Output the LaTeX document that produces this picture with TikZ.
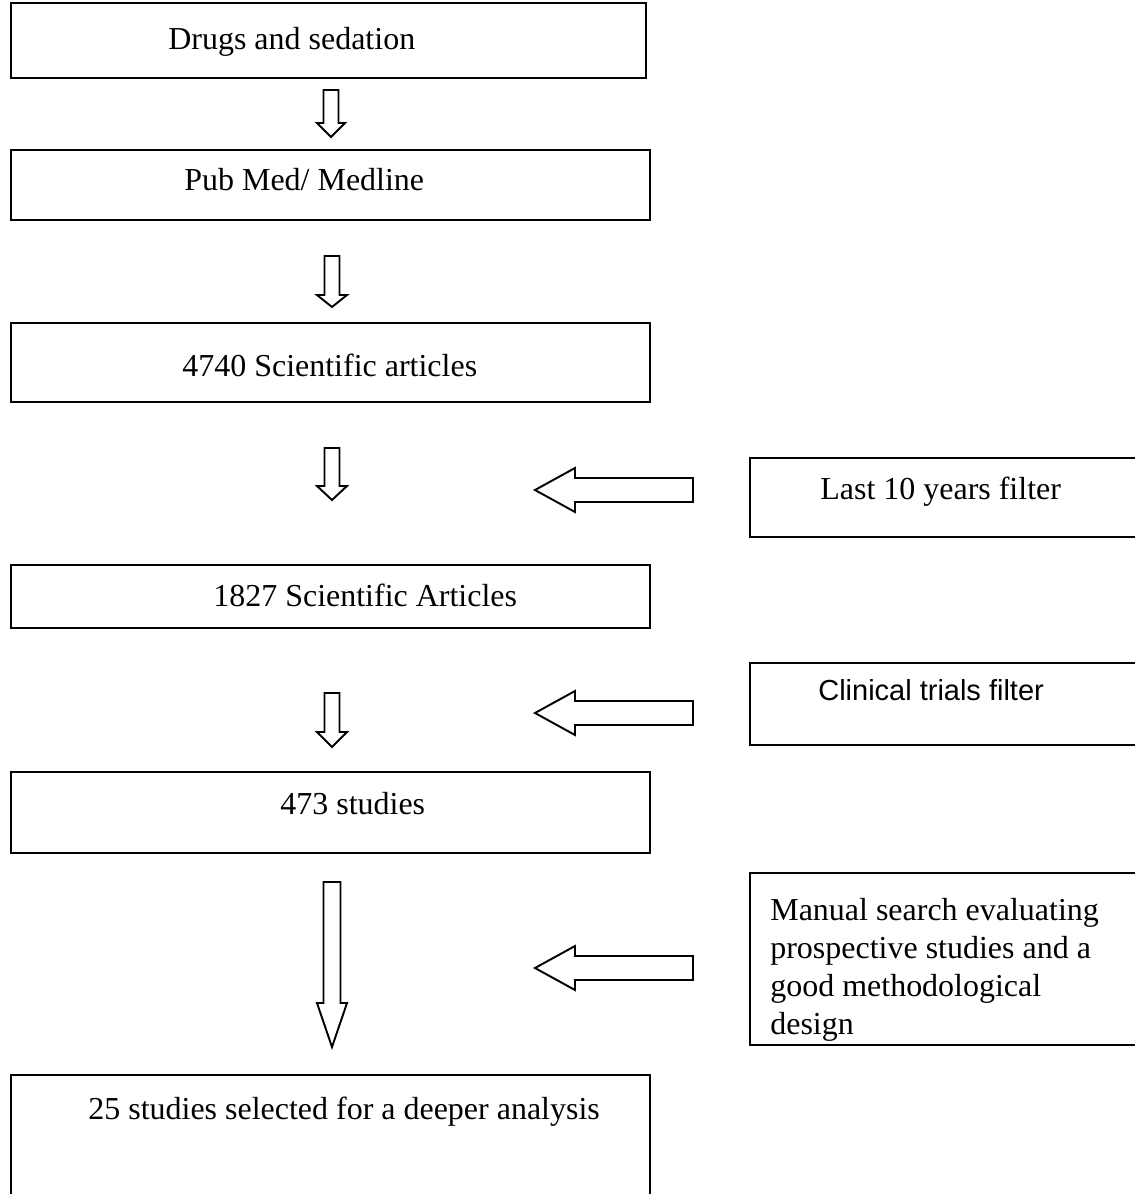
\documentclass[tikz,border=0pt]{standalone}
\usepackage{fontspec}
\setmainfont{Liberation Serif}
\newfontfamily\arialfont{Liberation Sans}
\usetikzlibrary{fit}
\newcommand\mydarr[6]{% cx, top, head start, tip, shaft half, head half
  \draw[blk] ({#1-#5},#2) -- ({#1+#5},#2) -- ({#1+#5},#3) -- ({#1+#6},#3) -- (#1,#4) -- ({#1-#6},#3) -- ({#1-#5},#3) -- cycle;}
\newcommand\mylarr[2]{% y centre, name
  \draw[blk] (535,#1) -- (575,{#1-22}) -- (575,{#1-12}) -- (693,{#1-12}) -- (693,{#1+12}) -- (575,{#1+12}) -- (575,{#1+22}) -- cycle;
  \coordinate (#2) at (535,#1);}
\begin{document}
\begin{tikzpicture}[x=0.02cm,y=-0.02cm,
 boxst/.style={draw, line width=1.5pt, inner sep=0pt},
 lbl/.style={anchor=base west, inner sep=0pt, font=\fontsize{18.2}{22}\selectfont},
 sanslbl/.style={anchor=base west, inner sep=0pt, font=\arialfont\fontsize{16.5}{20}\selectfont},
 blk/.style={draw, line width=1.1pt, fill=white, line join=miter}]
\useasboundingbox (0,0) rectangle (1134,1194);
\fill[white] (0,0) rectangle (1134,1194);

% left column boxes
\node[boxst, fit={(11,3) (646,78)}] (b1) {};
\node[boxst, fit={(11,150) (650,220)}] (b2) {};
\node[boxst, fit={(11,323) (650,402)}] (b3) {};
\node[boxst, fit={(11,565) (650,628)}] (b4) {};
\node[boxst, fit={(11,772) (650,853)}] (b5) {};
\node[boxst, fit={(11,1075) (650,1215)}] (b6) {};

% right column boxes (cut at the page edge)
\node[boxst, fit={(750,458) (1150,537)}] (r1) {};
\node[boxst, fit={(750,663) (1150,745)}] (r2) {};
\node[boxst, fit={(750,873) (1150,1045)}] (r3) {};

% texts
\node[lbl] (t1) at (168,49) {Drugs and sedation};
\node[lbl] (t2) at (184,190) {Pub Med/ Medline};
\node[lbl] (t3) at (182,376) {4740 Scientific articles};
\node[lbl] (t4) at (213,606) {1827 Scientific Articles};
\node[lbl] (t5) at (280,814) {473 studies};
\node[lbl] (t6) at (88,1119) {25 studies selected for a deeper analysis};
\node[lbl] (s1) at (820,499) {Last 10 years filter};
\node[sanslbl] (s2) at (818,700) {Clinical trials filter};
\node[lbl] (s3a) at (770,920) {Manual search evaluating};
\node[lbl] (s3b) at (770,958) {prospective studies and a};
\node[lbl] (s3c) at (770,996) {good methodological};
\node[lbl] (s3d) at (770,1034) {design};

% down block arrows
\mydarr{331}{90}{123}{137}{7.5}{14}
\mydarr{332}{256}{295}{307}{7.5}{15}
\mydarr{332}{448}{486}{500}{7.5}{15}
\mydarr{332}{693}{732}{747}{7.5}{15}
\mydarr{332}{882}{1003}{1047}{8.5}{15}

% left block arrows
\mylarr{490}{l1}
\mylarr{713}{l2}
\mylarr{968}{l3}
\end{tikzpicture}
\end{document}
